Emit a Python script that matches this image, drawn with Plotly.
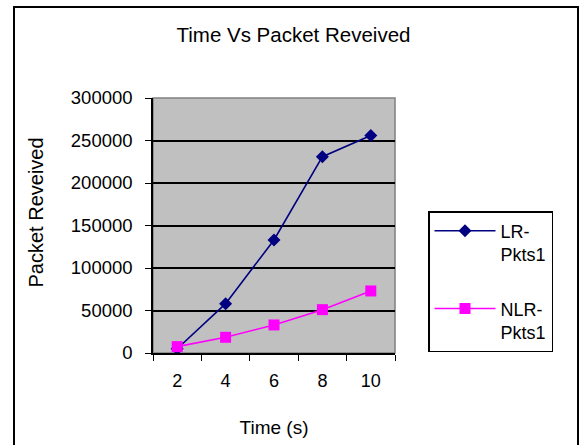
import plotly.graph_objects as go

# Simulation time (s) and packets received per protocol
time_s = ["2", "4", "6", "8", "10"]
lr_pkts = [5000, 58000, 133000, 231000, 256000]
nlr_pkts = [7500, 18500, 33000, 51000, 73000]

series_names = ["LR-<br>Pkts1", "NLR-<br>Pkts1"]
y_ticks = [0, 50000, 100000, 150000, 200000, 250000, 300000]

FONT = "Liberation Sans, Arial, sans-serif"

fig = go.Figure()
fig.add_trace(go.Scatter(
    x=time_s, y=lr_pkts, name=series_names[0], mode="lines+markers",
    line=dict(color="#000080", width=1.6),
    marker=dict(symbol="diamond", size=10, color="#000080"),
    legendgroup="lr",
))
fig.add_trace(go.Scatter(
    x=time_s, y=nlr_pkts, name=series_names[1], mode="lines+markers",
    line=dict(color="#FF00FF", width=1.6),
    marker=dict(symbol="square", size=11, color="#FF00FF"),
    legendgroup="nlr",
))

# plot area spans x 153..395, y 98..353 of the 582x445 page
L, R, T, B = 153, 395, 98, 353
W, H = 582, 445
pw, ph = R - L, B - T


def px(x):
    return (x - L) / pw


def py(y):
    return (B - y) / ph


fig.update_layout(
    width=W, height=H,
    margin=dict(l=L, r=W - R, t=T, b=H - B, autoexpand=False),
    paper_bgcolor="white",
    plot_bgcolor="#C0C0C0",
    font=dict(family=FONT, size=18, color="black"),
    title=dict(
        text="Time Vs Packet Reveived",
        font=dict(family=FONT, size=20.5, color="black"),
        xref="container", x=293.5 / W, xanchor="center",
        yref="container", y=1 - 35 / H, yanchor="middle",
    ),
    showlegend=True,
    legend=dict(
        x=px(428), y=py(211), xanchor="left", yanchor="top",
        bordercolor="black", borderwidth=1.5, bgcolor="white",
        font=dict(family=FONT, size=18, color="black"),
        valign="top", tracegroupgap=28, itemwidth=61,
    ),
    xaxis=dict(
        type="category", range=[-0.5, 4.5],
        tickson="boundaries", ticks="outside", ticklen=6,
        tickcolor="black", tickwidth=1,
        showline=True, linecolor="black", linewidth=1.5,
        showgrid=False, zeroline=False,
        tickfont=dict(family=FONT, size=18, color="black"),
        ticklabelstandoff=11,
        title=dict(text="Time (s)", standoff=30,
                   font=dict(family=FONT, size=19, color="black")),
    ),
    yaxis=dict(
        range=[0, 300000], tickvals=y_ticks, tickformat="d",
        ticks="outside", ticklen=6, tickcolor="black", tickwidth=1,
        showline=True, linecolor="black", linewidth=1.5,
        showgrid=True, gridcolor="black", gridwidth=1.5,
        zeroline=False,
        tickfont=dict(family=FONT, size=18.5, color="black"),
        ticklabelstandoff=9,
    ),
    annotations=[dict(
        text="Packet Reveived", textangle=-90,
        xref="paper", yref="paper", x=px(35), y=py(212.5),
        xanchor="center", yanchor="middle", showarrow=False,
        font=dict(family=FONT, size=20, color="black"),
    )],
    shapes=[
        # gray frame around the plot area
        dict(type="rect", xref="paper", yref="paper", x0=0, x1=1, y0=0, y1=1,
             line=dict(color="#808080", width=1.5), layer="below"),
        # outer chart frame
        dict(type="rect", xref="paper", yref="paper",
             x0=px(14), x1=px(578), y0=py(460), y1=py(7),
             line=dict(color="black", width=2), fillcolor="rgba(0,0,0,0)"),
    ],
)

fig.write_html("out.html")
